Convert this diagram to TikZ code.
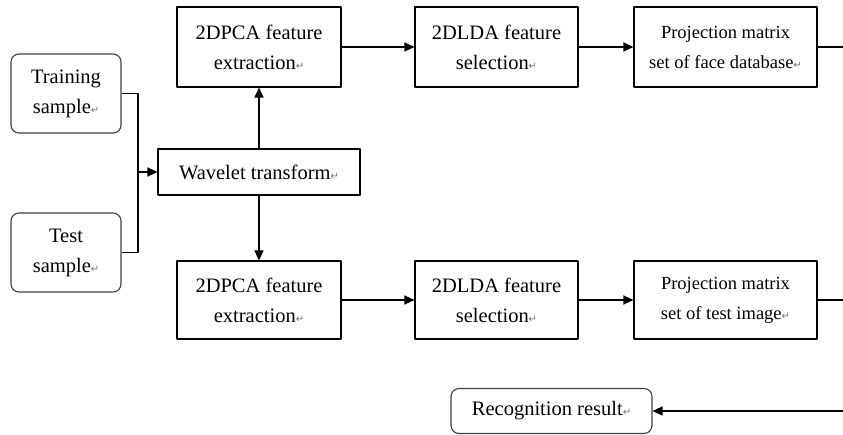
\documentclass[tikz,border=0pt]{standalone}
\usepackage{fontspec}
\setmainfont{Liberation Serif}
\newfontfamily\symfont{DejaVu Sans}
\usetikzlibrary{arrows.meta}
\begin{document}
\begin{tikzpicture}[x=1pt,y=-1pt,>={Triangle[length=10pt,width=9pt]},line join=round,line width=1.1pt,
		box/.style={draw,rectangle,align=center,inner sep=0pt,font=\fontsize{20.5}{30}\selectfont},
		smallbox/.style={box,font=\fontsize{18.5}{30}\selectfont},
		endbox/.style={box,draw=black!75,rounded corners=8pt}]
				\def\rmark{{\symfont\fontsize{10}{10}\selectfont\color{black!55}\char"21B5}}
				\useasboundingbox (0,0) rectangle (843,435);
				\node[endbox,minimum width=110,minimum height=79] (train) at (66,93.5) {Training\\sample\rmark};
				\node[endbox,minimum width=110,minimum height=79] (test) at (66,252.5) {Test\\sample\rmark};
				\node[box,minimum width=202,minimum height=46] (wave) at (259,172) {Wavelet transform\rmark};
				\node[box,minimum width=164,minimum height=80] (pcaA) at (259,47) {2DPCA feature\\extraction\rmark};
				\node[box,minimum width=163,minimum height=80] (ldaA) at (496.5,47) {2DLDA feature\\selection\rmark};
				\node[smallbox,minimum width=183,minimum height=80] (projA) at (725.5,47) {Projection matrix\\set of face database\rmark};
				\node[box,minimum width=164,minimum height=78] (pcaB) at (259,300) {2DPCA feature\\extraction\rmark};
				\node[box,minimum width=163,minimum height=78] (ldaB) at (496.5,300) {2DLDA feature\\selection\rmark};
				\node[smallbox,minimum width=183,minimum height=78] (projB) at (725.5,300) {Projection matrix\\set of test image\rmark};
				\node[endbox,minimum width=201,minimum height=45] (result) at (551.5,411) {Recognition result\rmark};
				\coordinate (jn) at (138,172);
				\coordinate (outA) at (843,47);
				\coordinate (outB) at (843,300);
				\coordinate (inR) at (843,411);
				\draw (train.east) -| (jn) |- (test.east);
				\draw[->] (jn) -- (wave.west);
				\draw[->] (wave.north) -- (pcaA.south);
				\draw[->] (wave.south) -- (pcaB.north);
				\draw[->] (pcaA) -- (ldaA);
				\draw[->] (ldaA) -- (projA);
				\draw[->] (pcaB) -- (ldaB);
				\draw[->] (ldaB) -- (projB);
				\draw (projA.east) -- (outA);
				\draw (projB.east) -- (outB);
				\draw[->] (inR) -- (result.east);
			\end{tikzpicture}
\end{document}
